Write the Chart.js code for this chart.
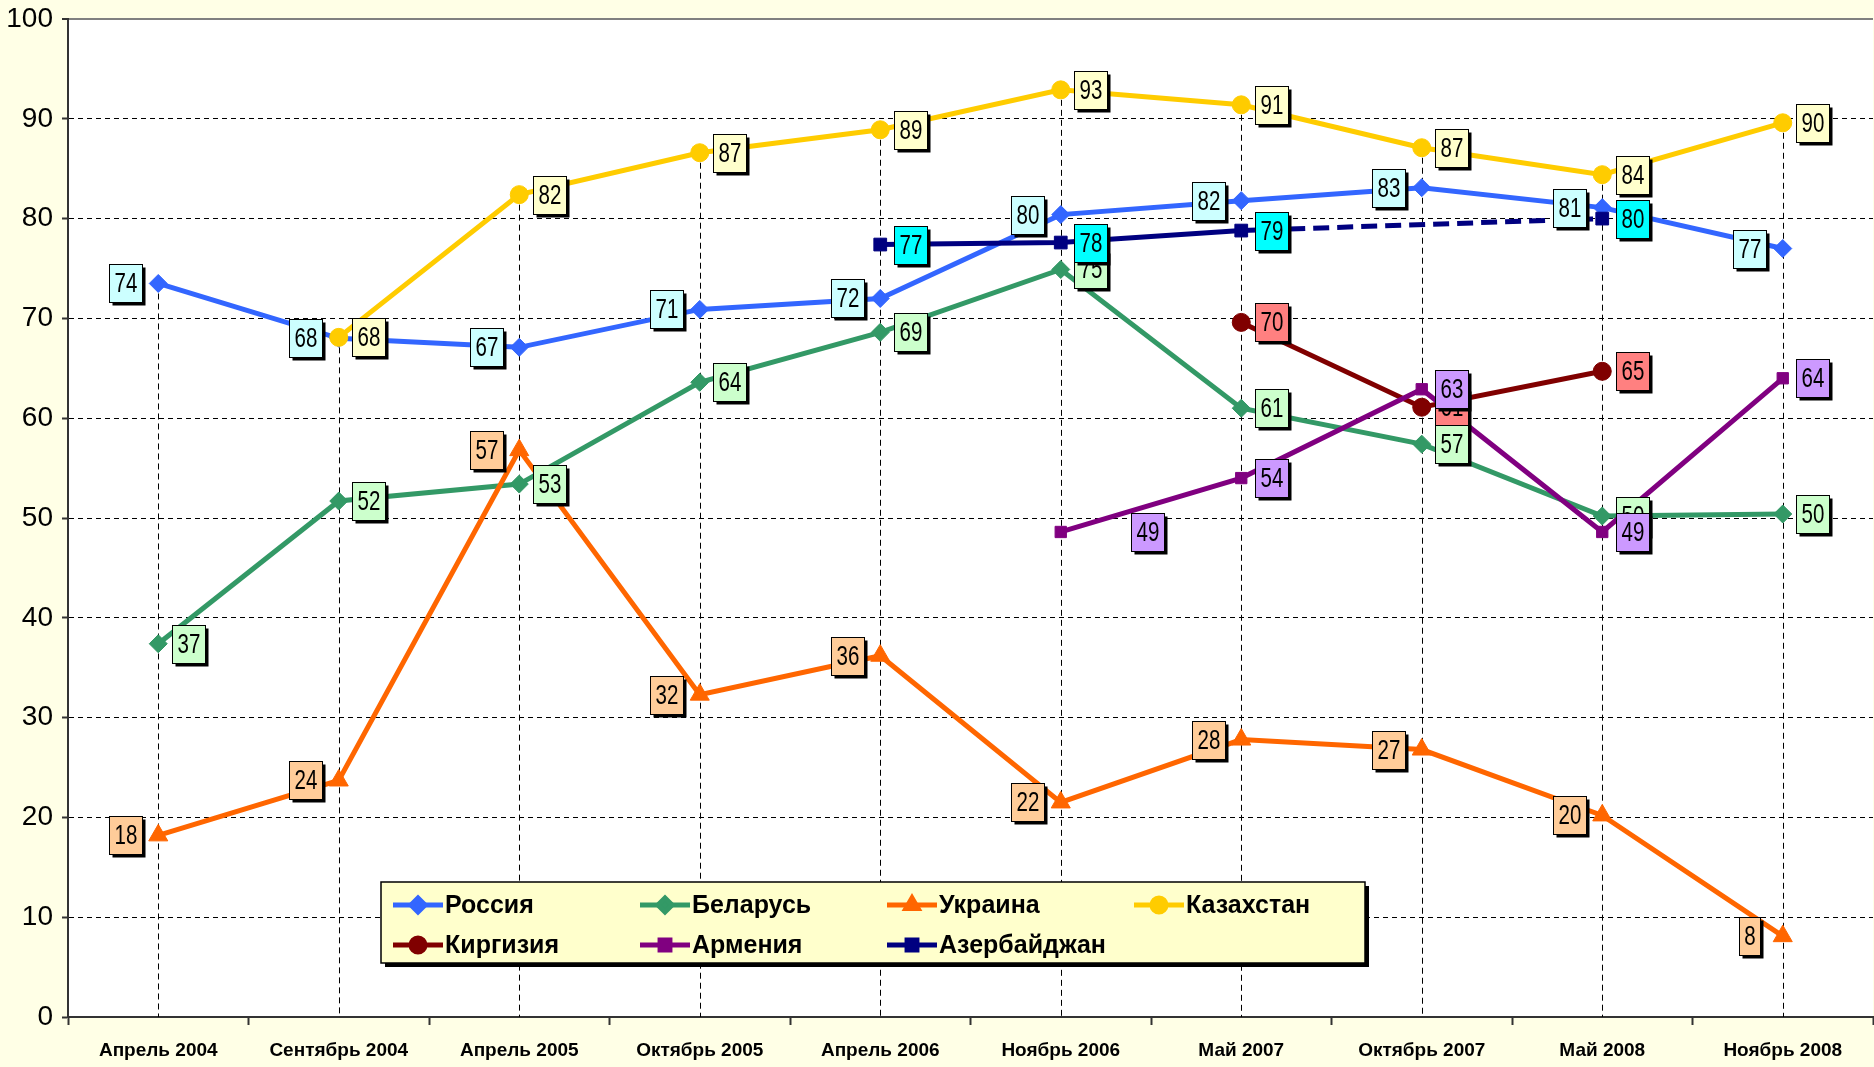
<!DOCTYPE html>
<html lang="ru">
<head>
<meta charset="UTF-8">
<title>Оценка отношения</title>
<script src="https://cdn.jsdelivr.net/npm/chart.js"></script>
<style>
  html, body { margin: 0; padding: 0; background: #FFFFE6; }
  canvas { display: block; }
</style>
</head>
<body>
<canvas id="chart" width="1874" height="1067"></canvas>
<script>
// categories (survey waves)
const periods = ['Апрель 2004', 'Сентябрь 2004', 'Апрель 2005', 'Октябрь 2005', 'Апрель 2006',
                 'Ноябрь 2006', 'Май 2007', 'Октябрь 2007', 'Май 2008', 'Ноябрь 2008'];

// series values
const russia     = [73.5, 68.0, 67.1, 70.9, 72.0, 80.4, 81.8, 83.1, 81.1, 77.0];
const belarus    = [37.4, 51.7, 53.4, 63.6, 68.6, 74.9, 61.0, 57.4, 50.2, 50.4];
const ukraine    = [18.2, 23.7, 56.8, 32.3, 36.2, 21.5, 27.8, 26.8, 20.2, 8.1];
const kazakhstan = [null, 68.1, 82.4, 86.6, 88.9, 92.9, 91.4, 87.1, 84.4, 89.6];
const kyrgyzstan = [null, null, null, null, null, null, 69.6, 61.1, 64.7, null];
const armenia    = [null, null, null, null, null, 48.6, 54.0, 62.9, 48.6, 64.0];
const azerbaijan = [null, null, null, null, 77.4, 77.6, 78.8, null, 80.0, null];

const yTicks = [0, 10, 20, 30, 40, 50, 60, 70, 80, 90, 100];

const seriesNames = ['Россия', 'Беларусь', 'Украина', 'Казахстан', 'Киргизия', 'Армения', 'Азербайджан'];

function makeSet(label, data, color, boxColor, style, radius, side) {
  return {
    label: label,
    data: data,
    borderColor: color,
    backgroundColor: color,
    pointBackgroundColor: color,
    pointBorderColor: color,
    pointStyle: style,
    pointRadius: radius,
    pointBorderWidth: 1,
    borderWidth: 5,
    tension: 0,
    spanGaps: true,
    clip: false,
    boxColor: boxColor,
    labelSide: side,
    segment: {
      borderDash: ctx => (ctx.p0.skip || ctx.p1.skip) ? [16, 8] : undefined
    }
  };
}

const datasets = [
  makeSet(seriesNames[0], russia,     '#3366FF', '#CCFFFF', 'rectRot',  9, 'left'),
  makeSet(seriesNames[1], belarus,    '#339966', '#CCFFCC', 'rectRot',  9, 'right'),
  makeSet(seriesNames[2], ukraine,    '#FF6600', '#FFCC99', 'triangle', 11, 'left'),
  makeSet(seriesNames[3], kazakhstan, '#FFCC00', '#FFFFCC', 'circle',   9, 'right'),
  makeSet(seriesNames[4], kyrgyzstan, '#800000', '#FF8080', 'circle',   9, 'right'),
  makeSet(seriesNames[5], armenia,    '#800080', '#CC99FF', 'rect',     8, 'right'),
  makeSet(seriesNames[6], azerbaijan, '#000080', '#00FFFF', 'rect',     9, 'right')
];
// later series on top, like the original
datasets.forEach((d, i) => { d.order = datasets.length - i; });
// one label that was dragged away from its point
datasets[5].labelShift = { 5: 57 };

// white plot area on a cream page
const backgroundPlugin = {
  id: 'background',
  beforeDraw(chart) {
    const { ctx, chartArea } = chart;
    ctx.save();
    ctx.fillStyle = '#FFFFE6';
    ctx.fillRect(0, 0, chart.width, chart.height);
    ctx.fillStyle = '#FFFFFF';
    ctx.fillRect(chartArea.left, chartArea.top, chartArea.right - chartArea.left, chartArea.bottom - chartArea.top);
    ctx.restore();
  }
};

// drop lines from the highest point of each category down to the axis
const dropLinesPlugin = {
  id: 'dropLines',
  beforeDatasetsDraw(chart) {
    const { ctx, chartArea, scales } = chart;
    ctx.save();
    ctx.strokeStyle = '#000';
    ctx.lineWidth = 1;
    ctx.setLineDash([6, 4]);
    periods.forEach((p, i) => {
      let top = null;
      chart.data.datasets.forEach(d => {
        const v = d.data[i];
        if (v !== null && v !== undefined && (top === null || v > top)) top = v;
      });
      if (top === null) return;
      const x = Math.round(scales.x.getPixelForValue(i)) + 0.5;
      ctx.beginPath();
      ctx.moveTo(x, scales.y.getPixelForValue(top));
      ctx.lineTo(x, chartArea.bottom);
      ctx.stroke();
    });
    ctx.restore();
  }
};

// boxed value labels with a drop shadow
const labelOrder = [4, 0, 1, 2, 3, 5, 6];
const valueLabelsPlugin = {
  id: 'valueLabels',
  afterDatasetsDraw(chart) {
    const { ctx } = chart;
    ctx.save();
    ctx.font = '27px "Liberation Sans", Arial, sans-serif';
    ctx.textAlign = 'center';
    ctx.textBaseline = 'middle';
    const sx = 0.76;
    labelOrder.forEach(di => {
      const d = chart.data.datasets[di];
      const meta = chart.getDatasetMeta(di);
      d.data.forEach((v, i) => {
        if (v === null || v === undefined) return;
        const pt = meta.data[i];
        const text = String(Math.round(v));
        const w = Math.round(ctx.measureText(text).width * sx + 10);
        const h = 38;
        let cx = pt.x + (d.labelSide === 'left' ? -33 : 30);
        if (d.labelShift && d.labelShift[i]) cx += d.labelShift[i];
        const bx = Math.round(cx - w / 2) + 0.5;
        const by = Math.round(pt.y - h / 2) + 0.5;
        ctx.fillStyle = '#000';
        ctx.fillRect(bx + 3, by + 3, w, h);
        ctx.fillStyle = d.boxColor;
        ctx.fillRect(bx, by, w, h);
        ctx.strokeStyle = '#000';
        ctx.lineWidth = 1;
        ctx.strokeRect(bx, by, w, h);
        ctx.save();
        ctx.translate(bx + w / 2, by + h / 2 + 1);
        ctx.scale(sx, 1);
        ctx.fillStyle = '#000';
        ctx.fillText(text, 0, 0);
        ctx.restore();
      });
    });
    ctx.restore();
  }
};

// legend box inside the plot
const legendBox = { x: 381, y: 882, w: 984, h: 81, colW: 247, rowH: 40 };
const insideLegendPlugin = {
  id: 'insideLegend',
  afterDraw(chart) {
    const { ctx } = chart;
    const b = legendBox;
    ctx.save();
    ctx.fillStyle = '#000';
    ctx.fillRect(b.x + 4, b.y + 4, b.w, b.h);
    ctx.fillStyle = '#FFFFCC';
    ctx.fillRect(b.x, b.y, b.w, b.h);
    ctx.strokeStyle = '#000';
    ctx.lineWidth = 1.5;
    ctx.strokeRect(b.x, b.y, b.w, b.h);
    ctx.font = 'bold 25px "Liberation Sans", Arial, sans-serif';
    ctx.textAlign = 'left';
    ctx.textBaseline = 'middle';
    chart.data.datasets.forEach((d, k) => {
      const col = k % 4, row = Math.floor(k / 4);
      const x0 = b.x + 12 + col * b.colW;
      const y0 = b.y + 23 + row * b.rowH;
      ctx.strokeStyle = d.borderColor;
      ctx.lineWidth = 5;
      ctx.beginPath();
      ctx.moveTo(x0, y0);
      ctx.lineTo(x0 + 50, y0);
      ctx.stroke();
      ctx.fillStyle = d.borderColor;
      Chart.helpers.drawPoint(ctx, { pointStyle: d.pointStyle, radius: 7, rotation: 0, borderWidth: 1 }, x0 + 25, y0);
      ctx.fillStyle = '#000';
      ctx.fillText(d.label, x0 + 52, y0 + 1);
    });
    ctx.restore();
  }
};

new Chart(document.getElementById('chart'), {
  type: 'line',
  data: { labels: periods, datasets: datasets },
  options: {
    responsive: false,
    animation: false,
    devicePixelRatio: 1,
    layout: { autoPadding: false, padding: { top: 19, right: 1, left: 0, bottom: 0 } },
    plugins: {
      legend: { display: false },
      tooltip: { enabled: false }
    },
    scales: {
      x: {
        offset: true,
        afterFit: s => { s.height = 50; s.paddingLeft = 0; s.paddingRight = 0; },
        grid: {
          offset: true,
          drawOnChartArea: false,
          drawTicks: true,
          tickLength: 8,
          tickColor: '#333',
          tickWidth: 2
        },
        border: { display: true, color: '#333', width: 2 },
        ticks: {
          autoSkip: false,
          maxRotation: 0,
          padding: 14,
          color: '#000',
          font: { family: '"Liberation Sans", Arial, sans-serif', size: 19, weight: 'bold' }
        }
      },
      y: {
        min: 0,
        max: 100,
        afterFit: s => { s.width = 68; s.paddingTop = 0; s.paddingBottom = 0; },
        afterBuildTicks: s => { s.ticks = yTicks.map(v => ({ value: v })); },
        grid: {
          color: ctx => {
            const v = ctx.tick ? ctx.tick.value : null;
            if (v === 0) return 'rgba(0,0,0,0)';
            if (v === 100) return '#808080';
            return '#000';
          },
          lineWidth: ctx => (ctx.tick && ctx.tick.value === 100) ? 2 : 1,
          drawTicks: true,
          tickLength: 6,
          tickColor: '#333',
          tickWidth: 2
        },
        border: {
          display: true,
          color: '#333',
          width: 2,
          dash: ctx => (ctx.tick && ctx.tick.value === 100) ? [] : [5, 4]
        },
        ticks: {
          padding: 9,
          color: '#000',
          font: { family: '"Liberation Sans", Arial, sans-serif', size: 28 }
        }
      }
    }
  },
  plugins: [backgroundPlugin, dropLinesPlugin, valueLabelsPlugin, insideLegendPlugin]
});
</script>
</body>
</html>
